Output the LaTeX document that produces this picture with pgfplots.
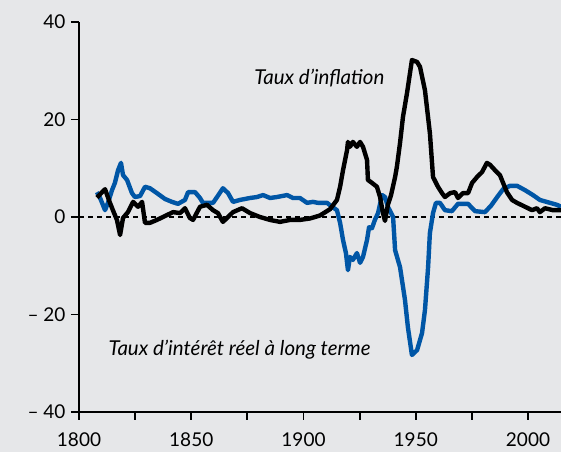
\documentclass[border=0pt]{standalone}
\usepackage{fontspec}
\setmainfont{Lato}
\usepackage{pgfplots}
\pgfplotsset{compat=1.18}
\definecolor{bgc}{RGB}{230,231,233}
\definecolor{bl}{RGB}{0,86,166}

\pgfplotstableread{
x y
1808.0 4.0
1811.6 5.7
1813.8 2.9
1815.1 1.4
1816.9 -0.6
1818.3 -3.7
1819.6 -0.2
1821.8 1.0
1824.1 3.1
1826.3 2.1
1828.1 3.1
1829.4 -1.2
1831.6 -1.2
1834.7 -0.6
1837.4 0
1841.9 1.0
1845.0 0.8
1847.2 1.8
1849.4 -0.2
1850.8 -0.6
1853.9 2.1
1857.0 2.5
1859.7 1.4
1861.9 0.8
1864.1 -1.0
1866.4 0
1868.6 1.0
1872.6 1.8
1876.2 0.8
1880.6 0
1885.1 -0.6
1889.5 -1.0
1894.0 -0.6
1898.4 -0.6
1902.9 -0.3
1907.3 0.3
1911.8 1.6
1914.9 3.5
1916.3 6.2
1917.6 9.6
1919.4 13.7
1919.8 15.4
1920.7 14.4
1922.0 15.4
1923.8 14.4
1925.2 15.4
1926.5 14.4
1928.3 11.7
1928.7 7.6
1930.5 7.0
1932.7 6.2
1934.1 4.1
1935.4 0.8
1936.3 -0.8
1937.6 2.5
1939.0 4.5
1940.8 8.2
1941.6 10.3
1943.0 15.2
1944.3 20.5
1946.1 25.4
1948.3 32.2
1950.6 31.8
1951.9 30.8
1954.1 26.0
1956.3 17.2
1957.7 8.2
1959.9 6.2
1961.7 4.9
1963.0 4.1
1965.3 4.9
1967.5 5.1
1968.8 3.9
1971.0 4.9
1973.3 4.9
1975.1 7.0
1977.3 8.2
1979.5 9.2
1981.7 11.1
1983.1 10.7
1985.3 9.6
1987.5 8.6
1988.9 7.0
1990.6 5.1
1992.9 3.5
1995.1 2.9
1998.7 2.1
2001.8 1.4
2004.0 1.8
2005.3 1.0
2007.6 1.8
2011.1 1.4
2014.7 1.4
}\inflation

\pgfplotstableread{
x y
1808.0 5.1
1809.4 3.9
1811.6 1.4
1812.9 2.9
1814.7 5.5
1816.0 7.0
1817.4 9.6
1818.7 11.1
1819.6 8.6
1821.4 7.6
1823.6 4.9
1824.9 4.1
1827.2 4.3
1829.4 6.2
1831.6 5.9
1834.7 4.9
1838.3 3.7
1841.4 3.1
1844.1 2.7
1847.2 3.5
1848.6 5.1
1851.7 5.1
1853.9 3.9
1855.2 2.9
1859.7 2.9
1861.5 4.1
1864.1 5.9
1866.4 4.9
1868.6 3.1
1871.7 3.5
1876.2 3.9
1879.3 4.1
1882.0 4.5
1885.1 3.9
1888.2 4.1
1892.7 4.5
1895.3 3.9
1898.4 3.9
1901.6 2.9
1904.2 3.1
1906.5 2.9
1910.5 2.9
1912.7 2.1
1914.9 1.4
1916.3 -1.2
1917.6 -4.7
1918.9 -7.4
1919.8 -10.9
1920.7 -8.2
1922.0 -8.8
1923.8 -7.4
1925.2 -9.4
1926.5 -8.2
1928.3 -4.7
1929.2 -2.1
1930.5 -2.3
1931.8 -0.6
1933.2 0.8
1935.0 4.5
1936.3 4.1
1937.6 2.1
1939.9 0
1940.8 -6.8
1943.0 -10.3
1945.2 -17.0
1946.5 -22.6
1948.3 -28.3
1950.6 -27.3
1952.8 -23.8
1954.1 -19.1
1955.5 -10.3
1956.3 -3.3
1957.7 0.8
1959.0 2.9
1960.8 2.9
1963.0 1.4
1966.1 1.2
1968.8 2.7
1973.3 2.7
1976.4 1.2
1980.8 1.0
1983.5 2.3
1986.6 4.3
1988.9 5.7
1992.0 6.4
1995.1 6.4
1998.7 5.5
2002.2 4.5
2005.3 3.5
2009.8 2.9
2012.9 2.5
2014.7 2.1
}\interest

\begin{document}
\begin{tikzpicture}
\fill[bgc] (-79bp,-40bp) rectangle (482bp,412bp);
\begin{axis}[
  at={(0,0)}, anchor=south west,
  scale only axis, width=482bp, height=390bp,
  xmin=1800, xmax=2014.7, ymin=-40, ymax=40,
  axis x line=bottom, axis y line=left,
  axis line style={-, line width=1.8bp},
  tick align=outside, major tick length=8bp, minor tick length=8bp,
  every tick/.style={line width=1.8bp, black},
  xtick={1800,1850,1900,1950,2000},
  xticklabels={1800,1850,1900,1950,2000},
  minor xtick={1825,1875,1925,1975},
  ytick={-40,-20,0,20,40},
  yticklabels={\textendash\ 40,\textendash\ 20,0,20,40},
  ticklabel style={font=\fontsize{19bp}{22bp}\selectfont},
  xticklabel style={yshift=-9.5bp},
  yticklabel style={xshift=-2bp},
  /pgf/number format/assume math mode=true,
]
\addplot[black, line width=1.2bp, dash pattern=on 5bp off 4bp] coordinates {(1800,0) (2014.7,0)};
\addplot[bl, line width=4.4bp, line join=round] table {\interest};
\addplot[black, line width=4.4bp, line join=round] table {\inflation};
\node[anchor=east, font=\itshape\fontsize{20.5bp}{24bp}\selectfont] at (axis cs:1937.6,28.5) {Taux d’inflation};
\node[anchor=west, font=\itshape\fontsize{20.5bp}{24bp}\selectfont] at (axis cs:1811.6,-27.3) {Taux d’intérêt réel à long terme};
\end{axis}
\pgfresetboundingbox
\useasboundingbox (-79bp,-40bp) rectangle (482bp,412bp);
\end{tikzpicture}
\end{document}
